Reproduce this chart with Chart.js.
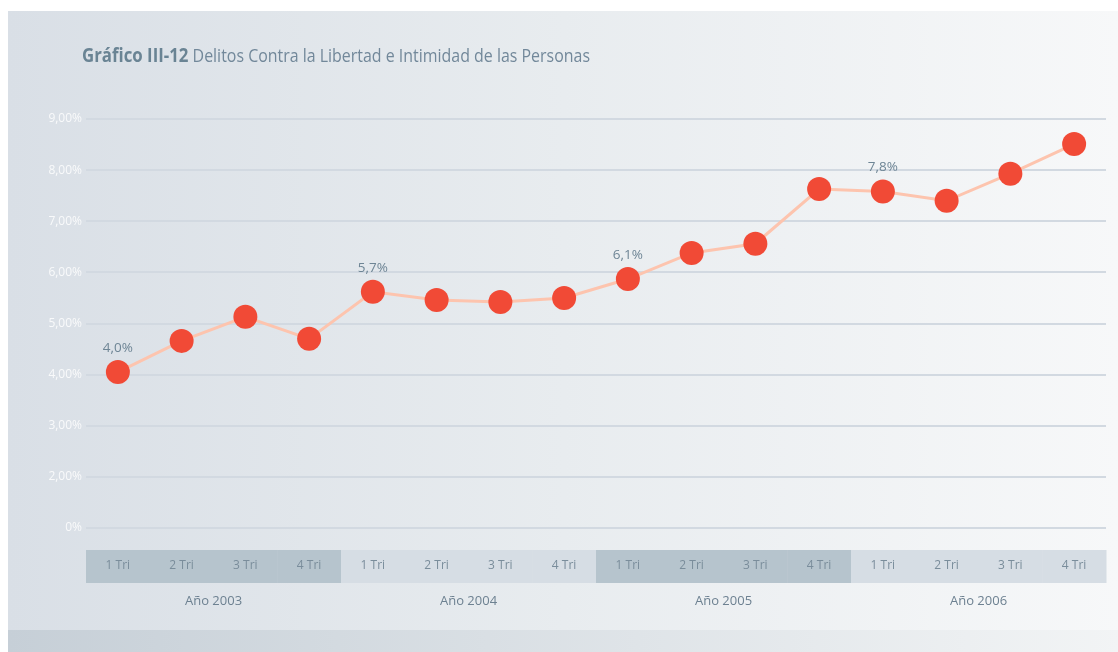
<!DOCTYPE html>
<html>
<head>
<meta charset="utf-8">
<script src="https://cdn.jsdelivr.net/npm/chart.js@4.4.1/dist/chart.umd.min.js"></script>
<style>
  html, body { margin: 0; padding: 0; background: #ffffff; }
  #wrap { width: 1118px; height: 652px; }
</style>
</head>
<body>
<div id="wrap"><canvas id="delitosChart" width="1118" height="652"></canvas></div>
<script>
// datos
const quarters = ["1 Tri", "2 Tri", "3 Tri", "4 Tri"];
const years = ["Año 2003", "Año 2004", "Año 2005", "Año 2006"];
const values = [4.05, 4.66, 5.13, 4.70, 5.62, 5.46, 5.42, 5.50, 5.87, 6.38, 6.56, 7.63, 7.58, 7.40, 7.93, 8.51];
const pointLabels = ["4,0%", "", "", "", "5,7%", "", "", "", "6,1%", "", "", "", "7,8%", "", "", ""];
const yTickValues = [1, 2, 3, 4, 5, 6, 7, 8, 9];
const yTickLabels = ["0%", "2,00%", "3,00%", "4,00%", "5,00%", "6,00%", "7,00%", "8,00%", "9,00%"];

const categories = [];
years.forEach(y => quarters.forEach(q => categories.push(q)));

const FONT = "'Open Sans', sans-serif";

// fondo, titulo y franjas de trimestres
const decor = {
    id: "decor",
    beforeDraw(chart) {
        const c = chart.ctx;
        const W = chart.width, H = chart.height;
        c.save();
        c.fillStyle = "#ffffff";
        c.fillRect(0, 0, W, H);
        let g = c.createLinearGradient(8, 0, W, 0);
        g.addColorStop(0, "#d9dfe6");
        g.addColorStop(0.5, "#e8ecef");
        g.addColorStop(1, "#f7f8f9");
        c.fillStyle = g;
        c.fillRect(8, 11, W - 8, 619);
        g = c.createLinearGradient(8, 0, W, 0);
        g.addColorStop(0, "#c6cfd7");
        g.addColorStop(1, "#f2f4f5");
        c.fillStyle = g;
        c.fillRect(8, 630, W - 8, H - 630);

        // titulo (comprimido a lo ancho del original)
        const bold = "Gráfico III-12";
        const rest = " Delitos Contra la Libertad e Intimidad de las Personas";
        c.font = "bold 19px " + FONT;
        const wb = c.measureText(bold).width;
        c.font = "18px " + FONT;
        const wr = c.measureText(rest).width;
        const sx = 508 / (wb + wr);
        c.translate(82, 57);
        c.scale(sx, 1);
        c.textBaseline = "middle";
        c.textAlign = "left";
        c.fillStyle = "#6a8494";
        c.font = "bold 19px " + FONT;
        c.fillText(bold, 0, 0);
        c.fillStyle = "#72889a";
        c.font = "18px " + FONT;
        c.fillText(rest, wb, 0);
        c.setTransform(1, 0, 0, 1, 0, 0);

        // franjas
        const x = chart.scales.x;
        const area = chart.chartArea;
        const step = x.getPixelForValue(1) - x.getPixelForValue(0);
        categories.forEach((q, i) => {
            const yr = Math.floor(i / quarters.length);
            c.fillStyle = yr % 2 === 0 ? "#b6c4cd" : "#d6dde4";
            const px = x.getPixelForValue(i);
            c.fillRect(px - step / 2, area.bottom + 22, step + 0.5, 33);
        });
        c.restore();
    },
    afterDatasetsDraw(chart) {
        const c = chart.ctx;
        const meta = chart.getDatasetMeta(0);
        c.save();
        c.font = "13.5px " + FONT;
        c.fillStyle = "#6e8595";
        c.textAlign = "center";
        c.textBaseline = "middle";
        meta.data.forEach((pt, i) => {
            if (pointLabels[i]) c.fillText(pointLabels[i], pt.x, pt.y - 24);
        });
        c.restore();
    }
};

new Chart(document.getElementById("delitosChart").getContext("2d"), {
    type: "line",
    data: {
        labels: categories,
        datasets: [{
            data: values,
            borderColor: "#fdc4ae",
            borderWidth: 3,
            pointBackgroundColor: "#f14a36",
            pointBorderWidth: 0,
            pointRadius: 12,
            tension: 0
        }]
    },
    options: {
        responsive: false,
        animation: false,
        layout: { padding: { left: 0, right: 10, top: 119, bottom: 34 } },
        plugins: {
            legend: { display: false },
            tooltip: { enabled: false }
        },
        scales: {
            y: {
                min: 1,
                max: 9,
                afterBuildTicks(scale) {
                    scale.ticks = yTickValues.map(v => ({ value: v }));
                },
                afterFit(scale) { scale.width = 86; },
                ticks: {
                    padding: 4,
                    color: "#f9fafb",
                    font: { family: FONT, size: 12 },
                    callback: v => yTickLabels[yTickValues.indexOf(v)]
                },
                grid: { color: "#d2d9e1", lineWidth: 2, drawTicks: false },
                border: { display: false }
            },
            x: {
                offset: true,
                afterFit(scale) { scale.height = 50; },
                ticks: {
                    padding: 30,
                    color: "#7a8d9b",
                    font: { family: FONT, size: 12 },
                    maxRotation: 0,
                    autoSkip: false
                },
                grid: { display: false, drawTicks: false },
                border: { display: false }
            },
            x2: {
                type: "category",
                position: "bottom",
                labels: years,
                offset: true,
                afterFit(scale) { scale.height = 40; },
                ticks: {
                    padding: 15,
                    color: "#6d8191",
                    font: { family: FONT, size: 13 },
                    maxRotation: 0
                },
                grid: { display: false, drawTicks: false },
                border: { display: false }
            }
        }
    },
    plugins: [decor]
});
</script>
</body>
</html>
